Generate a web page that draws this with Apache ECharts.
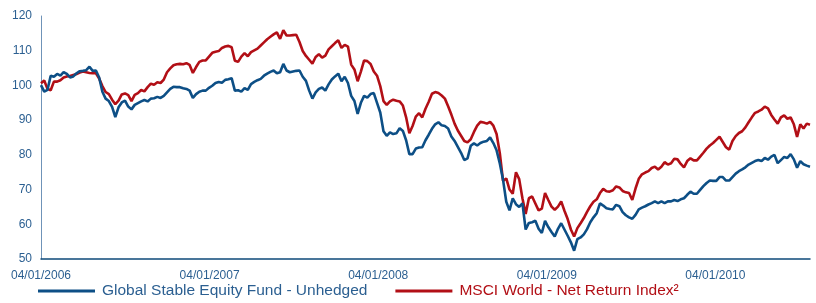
<!DOCTYPE html>
<html>
<head>
<meta charset="utf-8">
<style>
  html, body { margin: 0; padding: 0; background: #fff; }
  #chart { width: 816px; height: 303px; }
</style>
<script src="https://cdn.jsdelivr.net/npm/echarts@6/dist/echarts.min.js"></script>
</head>
<body>
<div id="chart"></div>
<script>
// weekly index values, rebased to 100 at 04/01/2006
var yearLabels = ['04/01/2006', '04/01/2007', '04/01/2008', '04/01/2009', '04/01/2010'];
var weeksPerYear = 52.18;

var fund = [
  100.1, 98.2, 98.7, 102.8, 102.5, 103.3, 102.8, 103.8, 103.3, 102.3,
  102.6, 103.5, 104.1, 104.2, 104.4, 105.4, 104.2, 104.3, 102.3, 98.2,
  96.2, 95.5, 93.8, 90.9, 93.7, 95.1, 95.6, 93.9, 93.1, 94.4,
  94.9, 95.4, 95.8, 95.4, 96.2, 96.3, 96.7, 96.4, 97.0, 98.0,
  99.0, 99.6, 99.5, 99.5, 99.2, 99.0, 98.5, 96.4, 97.5, 98.2,
  98.5, 98.5, 99.3, 99.9, 100.7, 101.0, 100.8, 101.6, 101.8, 102.1,
  98.5, 98.6, 98.2, 99.2, 98.7, 100.4, 101.0, 101.5, 101.9, 102.8,
  103.4, 103.9, 104.3, 103.5, 103.8, 106.2, 104.3, 103.8, 104.0, 104.2,
  104.3, 102.5, 101.3, 98.5, 96.2, 98.0, 99.0, 99.4, 98.5, 100.3,
  101.7, 102.6, 103.4, 101.2, 102.5, 100.7, 97.0, 95.5, 91.8, 95.0,
  97.0, 96.5, 97.5, 97.8, 95.0, 92.2, 86.8, 85.5, 86.5, 86.0,
  86.2, 87.7, 86.9, 84.2, 80.2, 80.2, 81.8, 82.1, 82.2, 84.2,
  85.8, 87.5, 88.8, 89.4, 88.5, 88.3, 87.6, 85.3, 84.0, 82.3,
  80.6, 78.5, 79.0, 82.6, 83.3, 82.7, 83.4, 83.8, 84.0, 85.0,
  83.4, 81.3, 77.5, 72.8, 66.5, 64.0, 67.5, 65.8, 65.0, 66.0,
  58.5, 60.4, 60.6, 61.0, 58.7, 57.5, 61.0, 59.2, 57.8, 56.5,
  58.7, 60.3, 58.5, 56.7, 54.8, 52.4, 55.7, 56.2, 57.1, 58.6,
  60.6, 62.0, 63.2, 66.0, 65.4, 64.6, 64.4, 64.3, 65.6, 65.2,
  63.5, 62.6, 62.0, 61.6, 62.7, 64.3, 64.8, 65.2, 65.7, 66.1,
  66.6, 66.1, 66.6, 66.1, 66.6, 66.6, 67.0, 66.7, 67.2, 67.5,
  68.5, 69.4, 68.8, 68.8, 69.9, 71.0, 71.9, 72.6, 72.5, 72.5,
  73.6, 73.6, 72.6, 72.6, 73.6, 74.6, 75.3, 75.8, 76.4, 77.2,
  77.7, 78.2, 78.5, 78.2, 79.1, 78.6, 79.5, 80.0, 77.6, 78.5,
  79.4, 79.1, 80.2, 78.7, 76.3, 78.2, 77.3, 76.9, 76.6
];

var msci = [
  100.6, 101.4, 99.0, 98.6, 101.1, 101.1, 101.5, 102.3, 102.6, 102.7,
  103.0, 103.3, 103.7, 104.0, 103.8, 103.6, 103.5, 103.5, 102.0, 99.8,
  98.1, 97.5, 95.9, 94.6, 95.6, 97.4, 97.7, 97.2, 95.5, 97.3,
  97.8, 98.7, 98.3, 99.5, 100.5, 100.2, 100.9, 100.7, 101.7, 103.8,
  104.9, 105.8, 106.1, 106.2, 106.1, 106.4, 105.9, 103.6, 105.3, 106.8,
  107.2, 107.2, 108.3, 109.4, 109.7, 109.9, 110.8, 111.2, 111.4, 111.0,
  107.1, 106.8, 108.3, 109.3, 108.4, 109.6, 110.1, 110.6, 111.5, 112.4,
  113.3, 114.0, 114.7, 115.3, 113.4, 115.9, 114.4, 114.4, 114.5, 114.6,
  112.5, 109.9, 108.5, 107.4, 106.3, 108.2, 109.0, 108.0, 108.6, 110.4,
  111.3, 112.2, 113.0, 110.8, 111.7, 111.2, 106.0, 104.6, 101.2, 104.0,
  107.2, 107.0, 106.2, 104.0, 102.8, 99.8, 95.5, 94.4, 95.4, 95.9,
  95.6, 95.4, 94.2, 90.8, 86.2, 88.3, 91.0, 92.0, 90.8, 93.3,
  95.3, 97.6, 98.1, 97.8, 97.1, 96.2, 94.0, 91.6, 89.0, 87.0,
  85.5, 84.0, 83.6, 84.5, 86.6, 88.4, 89.5, 89.3, 89.0, 89.5,
  88.4, 86.0, 80.5, 72.5, 73.2, 70.0, 68.8, 75.0, 73.0, 67.5,
  63.0, 67.5, 68.0, 66.0, 64.0, 64.5, 69.0, 67.0, 65.1, 64.2,
  65.1, 66.6, 63.9, 61.5, 58.5, 56.5, 58.9, 60.3, 61.8, 63.6,
  65.2, 66.5, 67.2, 69.0, 70.2, 69.5, 69.4, 69.8, 70.9, 70.6,
  69.6, 69.2, 69.0, 67.0, 70.3, 73.1, 74.4, 74.9, 75.3, 76.2,
  76.6, 75.8, 76.6, 77.9, 77.2, 77.6, 78.9, 78.7, 77.4, 76.4,
  78.2, 79.0, 78.4, 78.4, 79.5, 80.6, 81.8, 82.7, 83.4, 84.3,
  85.2, 83.7, 82.2, 81.5, 84.0, 85.4, 86.3, 86.8, 87.9, 89.4,
  90.8, 92.1, 92.5, 93.0, 93.9, 93.4, 91.5, 90.2, 89.0, 90.8,
  91.4, 90.4, 90.8, 88.8, 85.2, 88.8, 87.6, 89.0, 88.7
];

var blue = '#0d4f86';
var red = '#b20f16';
var labelBlue = '#2b5f91';

function toPoints(arr) {
  var out = [];
  for (var i = 0; i < arr.length; i++) {
    out.push([i, arr[i]]);
  }
  return out;
}

var myChart = echarts.init(document.getElementById('chart'));
var option = {
  animation: false,
  textStyle: { fontFamily: 'Liberation Sans, Arial, sans-serif' },
  grid: { left: 41, right: 6, top: 16, bottom: 44 },
  legend: {
    left: 38,
    top: 283,
    padding: 0,
    icon: 'rect',
    itemWidth: 57,
    itemHeight: 3,
    itemGap: 28,
    textStyle: { fontSize: 15.5, padding: [0, 0, 0, 2] },
    data: [
      { name: 'Global Stable Equity Fund - Unhedged', textStyle: { color: labelBlue } },
      { name: 'MSCI World - Net Return Index²', textStyle: { color: red } }
    ]
  },
  xAxis: {
    type: 'value',
    min: 0,
    max: fund.length - 1,
    interval: weeksPerYear,
    axisLine: { lineStyle: { color: '#0e4a7a', width: 1.5 } },
    axisTick: { show: false },
    splitLine: { show: false },
    axisLabel: {
      color: labelBlue,
      fontSize: 12,
      margin: 11,
      showMaxLabel: false,
      formatter: function(v) {
        return yearLabels[Math.round(v / weeksPerYear)] || '';
      }
    }
  },
  yAxis: {
    type: 'value',
    min: 50,
    max: 120,
    interval: 10,
    axisLine: { show: true, lineStyle: { color: '#6f93b8', width: 1 } },
    axisTick: { show: false },
    splitLine: { show: false },
    axisLabel: { color: labelBlue, fontSize: 12, margin: 9 }
  },
  series: [{
    name: 'MSCI World - Net Return Index²',
    type: 'line',
    data: toPoints(msci),
    showSymbol: false,
    lineStyle: { color: red, width: 2.6 },
    itemStyle: { color: red }
  }, {
    name: 'Global Stable Equity Fund - Unhedged',
    type: 'line',
    data: toPoints(fund),
    showSymbol: false,
    lineStyle: { color: blue, width: 2.6 },
    itemStyle: { color: blue }
  }]
};
myChart.setOption(option);
</script>
</body>
</html>
